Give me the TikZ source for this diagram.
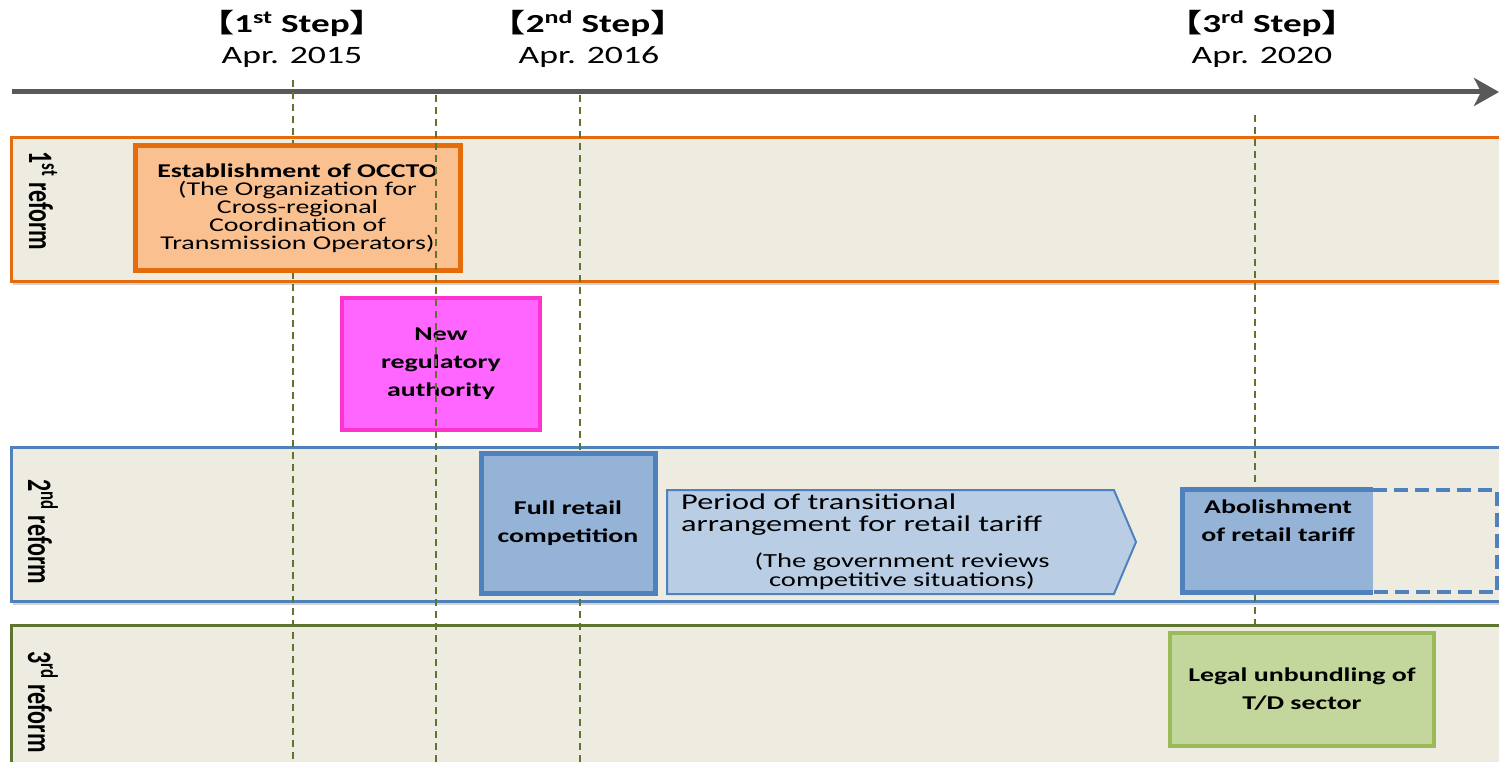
\documentclass[tikz,border=0pt]{standalone}
\usepackage{fontspec}
\usepackage{graphicx}
\setmainfont{Carlito}[FakeStretch=1.43]
\newfontfamily\plainfont{Carlito}
\newfontfamily\cjk{Noto Sans CJK JP}[FakeStretch=1.43]
\usetikzlibrary{shapes.symbols,shadows,calc,arrows.meta}

\definecolor{bandfill}{RGB}{238,236,225}
\definecolor{occtoorange}{RGB}{228,108,10}
\definecolor{occtofill}{RGB}{250,192,144}
\definecolor{regborder}{RGB}{255,51,204}
\definecolor{regfill}{RGB}{255,102,255}
\definecolor{tariffblue}{RGB}{79,129,189}
\definecolor{retailfill}{RGB}{149,179,215}
\definecolor{periodfill}{RGB}{185,205,229}
\definecolor{legalborder}{RGB}{155,187,89}
\definecolor{legalfill}{RGB}{195,214,155}
\definecolor{guidegreen}{RGB}{94,117,48}
\definecolor{axisgray}{RGB}{89,89,89}

\tikzset{
  band/.style={fill=bandfill, line width=3pt, inner sep=0pt, anchor=north west,
    minimum width=1500, drop shadow={opacity=0.35, shadow xshift=1pt, shadow yshift=-3pt}},
  reform/.style={rotate=-90, inner sep=0pt, font=\plainfont\bfseries\fontsize{24}{24}\selectfont},
  stage/.style={inner sep=0pt, font=\bfseries\fontsize{26}{26}\selectfont},
  datelbl/.style={inner sep=0pt, font=\fontsize{25}{25}\selectfont},
  event/.style={rectangle, align=center, inner sep=0pt,
    font=\bfseries\fontsize{19.5}{28}\selectfont},
  guide/.style={draw=guidegreen, line width=1.5pt, dash pattern=on 7pt off 5pt},
}

\newcommand{\reformlabel}[2]{\scalebox{1}[1.43]{#1\textsuperscript{#2}~reform}}
\newcommand{\stagelabel}[2]{{\cjk 【}#1\textsuperscript{#2} Step{\cjk 】}}

\begin{document}
\begin{tikzpicture}[x=1pt,y=-1pt]
\useasboundingbox (0,0) rectangle (1499,762);

% reform bands
\node[band, draw=occtoorange, minimum height=144] (band1) at (10,136) {};
\node[band, draw=tariffblue, minimum height=154] (band2) at (10,446) {};
\node[band, draw=guidegreen, minimum height=150] (band3) at (10,624) {};

\node[reform] (ref1) at (43,201) {\reformlabel{1}{st}};
\node[reform] (ref2) at (43,532) {\reformlabel{2}{nd}};
\node[reform] (ref3) at (43,702) {\reformlabel{3}{rd}};

% time axis
\node[stage] (stage1) at (292,23) {\stagelabel{1}{st}};
\node[datelbl] (date1) at (292,57) {Apr. 2015};
\node[stage] (stage2) at (588,23) {\stagelabel{2}{nd}};
\node[datelbl] (date2) at (589,57) {Apr. 2016};
\node[stage] (stage3) at (1262,23) {\stagelabel{3}{rd}};
\node[datelbl] (date3) at (1262,57) {Apr. 2020};

\coordinate (t0) at (12,92);
\coordinate (t1) at (1499,92);
\draw[axisgray, line width=5pt, -{Stealth[length=25pt,width=28pt,inset=7pt]}] (t0) -- (t1);

% guide lines (behind the boxes)
\foreach \gx/\gtop/\gbot in {293/80/762, 580/95/762, 1255/115/628}
  \draw[guide] (\gx,\gtop) -- (\gx,\gbot);

% 1st reform
\node[event, draw=occtoorange, fill=occtofill, line width=5pt,
  minimum width=325, minimum height=124, font=\fontsize{19.5}{18}\selectfont] (occto) at (297.5,208)
  {\textbf{Establishment of OCCTO}\\(The Organization for\\Cross-regional\\Coordination of\\Transmission Operators)};

\node[event, draw=regborder, fill=regfill, line width=4pt,
  minimum width=198, minimum height=132] (regulator) at (441,364)
  {New\\regulatory\\authority};

% 2nd reform
\node[event, draw=tariffblue, fill=retailfill, line width=5pt,
  minimum width=174, minimum height=140] (retail) at (568,523)
  {Full retail\\competition};

\node[signal, signal to=east, signal pointer angle=134, draw=tariffblue, fill=periodfill,
  line width=2pt, minimum width=469, minimum height=104, inner sep=0pt, anchor=west]
  (period) at (666,542) {};
\node[anchor=north west, align=left, inner sep=0pt, font=\fontsize{22.6}{22}\selectfont]
  (periodtxt) at (681,494) {Period of transitional\\arrangement for retail tariff};
\node[anchor=south, align=center, inner sep=0pt, font=\fontsize{20}{19}\selectfont]
  (periodnote) at (902,590) {(The government reviews\\competitive situations)};

\node[event, fill=retailfill, minimum width=190, minimum height=102] (abol) at (1278,541)
  {Abolishment\\of retail tariff\\[12pt]~};
\draw[tariffblue, line width=4pt, dash pattern=on 14pt off 7pt]
  (abol.north east) -- ++(124,0) |- (abol.south east);
\draw[tariffblue, line width=5pt] (abol.north east) -- (abol.north west) -- (abol.south west) -- (abol.south east);

% 3rd reform
\node[event, draw=legalborder, fill=legalfill, line width=4pt,
  minimum width=264, minimum height=113] (legal) at (1302,689.5)
  {Legal unbundling of\\T/D sector};

% guide line over the boxes
\draw[guide] (436,95) -- (436,762);
\end{tikzpicture}
\end{document}
